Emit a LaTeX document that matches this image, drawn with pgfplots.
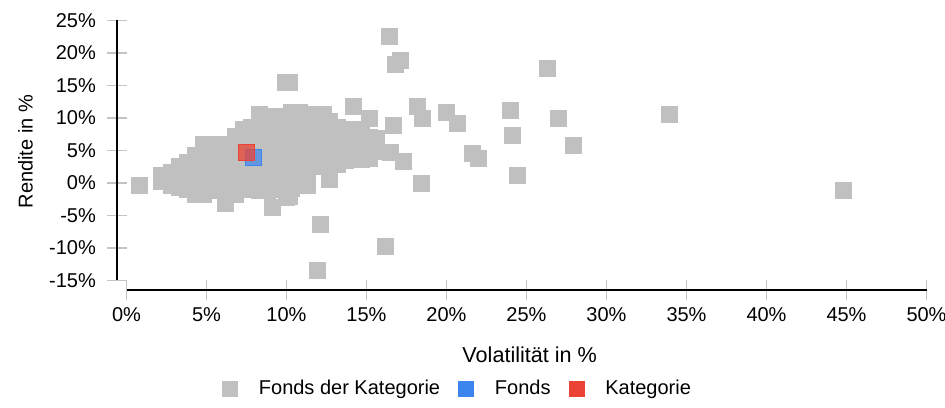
\documentclass[border=0pt]{standalone}
\usepackage{fontspec}
\setmainfont{Liberation Sans}
\usepackage{pgfplots}
\pgfplotsset{compat=1.18}
\definecolor{fgrey}{HTML}{C0C0C0}
\definecolor{fblue}{HTML}{3D85EE}
\definecolor{fred}{HTML}{EA4335}
\definecolor{tickgrey}{HTML}{C4C4C4}
\begin{document}
\begin{tikzpicture}
\begin{axis}[
  at={(0,0)}, anchor=south west,
  scale only axis,
  width=404.8pt, height=134.875pt,
  xmin=-0.6, xmax=50, ymin=-16.5, ymax=25,
  enlargelimits=false,
  clip=false,
  axis x line*=bottom, axis y line*=left,
  axis line style={-, black, line width=1pt},
  x axis line style={shorten <=4.8pt},
  y axis line style={shorten <=4.9pt},
  tick align=center,
  major tick length=10pt,
  tick style={tickgrey, line width=0.75pt},
  xtick={0,5,...,50},
  xticklabels={0\%,5\%,10\%,15\%,20\%,25\%,30\%,35\%,40\%,45\%,50\%},
  ytick={-15,-10,...,25},
  yticklabels={-15\%,-10\%,-5\%,0\%,5\%,10\%,15\%,20\%,25\%},
  tick label style={font=\fontsize{10}{12}\selectfont, text=black},
  yticklabel style={xshift=-2pt},
  every axis x label/.style={at={(axis description cs:0.5099,-0.2686)}, anchor=base, font=\fontsize{10.8}{13}\selectfont},
  every axis y label/.style={at={(axis description cs:-0.1129,0.5136)}, rotate=90, anchor=center, font=\fontsize{10}{12}\selectfont},
  xlabel={Volatilität in \%},
  ylabel={Rendite in \%},
  legend columns=3,
  legend style={at={(axis description cs:0.4195,-0.3661)}, anchor=center, draw=none, fill=none,
    font=\fontsize{10}{12}\selectfont, nodes={inner sep=0pt},
    /tikz/every odd column/.style={column sep=10.5pt},
    /tikz/every even column/.style={column sep=9pt}},
  legend image code/.code={\fill[#1] (0pt,-3.75pt) rectangle (7.5pt,3.75pt);},
]
\addplot[only marks, mark=square*, color=fgrey, mark size=4pt, mark options={draw=none}] coordinates {
(2.2,0.2) (2.2,1.1)
(2.8,-0.4) (2.8,1.0) (2.8,1.7)
(3.3,-0.6) (3.3,1.0) (3.3,2.5)
(3.8,-1.0) (3.8,0.8) (3.8,2.2) (3.8,3.2)
(4.3,-1.8) (4.3,0.0) (4.3,1.6) (4.3,3.0) (4.3,4.3)
(4.8,-1.8) (4.8,0.0) (4.8,1.8) (4.8,3.6) (4.8,5.0) (4.8,5.9)
(5.3,-1.0) (5.3,0.8) (5.3,2.5) (5.3,4.2) (5.3,5.9)
(5.8,-1.2) (5.8,0.5) (5.8,2.2) (5.8,4.0) (5.8,5.5) (5.8,5.9)
(6.2,-3.1) (6.2,-1.5) (6.2,0.2) (6.2,2.0) (6.2,3.8) (6.2,5.5) (6.2,5.9)
(6.8,-1.8) (6.8,0.0) (6.8,1.8) (6.8,3.5) (6.8,5.3) (6.8,7.2)
(7.3,-1.0) (7.3,0.8) (7.3,2.5) (7.3,4.3) (7.3,6.2) (7.3,8.2)
(7.8,-1.0) (7.8,0.8) (7.8,2.6) (7.8,4.4) (7.8,6.3) (7.8,8.5)
(8.3,-1.1) (8.3,0.7) (8.3,2.5) (8.3,4.3) (8.3,6.2) (8.3,8.0) (8.3,10.5)
(8.8,-1.1) (8.8,0.7) (8.8,2.5) (8.8,4.3) (8.8,6.1) (8.8,7.9) (8.8,9.6) (8.8,10.2)
(9.1,-3.8)
(9.3,-1.0) (9.3,0.8) (9.3,2.6) (9.3,4.4) (9.3,6.2) (9.3,8.0) (9.3,10.2)
(9.8,-0.8) (9.8,1.0) (9.8,2.8) (9.8,4.6) (9.8,6.4) (9.8,8.2) (9.8,10.3)
(10.0,-2.2) (10.2,-2.1) (9.9,15.5) (10.2,15.5)
(10.3,-0.8) (10.3,1.0) (10.3,2.8) (10.3,4.6) (10.3,6.4) (10.3,8.2) (10.3,10.0) (10.3,10.9)
(10.8,-0.3) (10.8,1.5) (10.8,3.3) (10.8,5.1) (10.8,6.9) (10.8,8.7) (10.8,10.9)
(11.3,-0.3) (11.3,1.5) (11.3,3.3) (11.3,5.1) (11.3,6.9) (11.3,8.7) (11.3,10.6)
(11.8,2.5) (11.8,4.3) (11.8,6.1) (11.8,7.9) (11.8,9.7) (11.8,10.5)
(12.3,2.5) (12.3,4.3) (12.3,6.1) (12.3,7.9) (12.3,9.7) (12.3,10.5)
(12.7,0.5) (12.7,2.5) (12.7,4.3) (12.7,6.1) (12.7,7.9) (12.7,9.5)
(13.2,2.8) (13.2,4.6) (13.2,6.4) (13.2,8.6)
(13.7,3.5) (13.7,5.3) (13.7,7.0) (13.7,7.8)
(14.2,4.5) (14.2,6.3) (14.2,8.3)
(14.7,3.7) (14.7,5.5) (14.7,7.2) (14.7,8.0)
(15.2,3.8) (15.2,5.5) (15.2,7.0)
(15.6,4.8) (15.6,6.9)
(0.8,-0.3) (12.1,-6.3) (11.9,-13.4) (16.2,-9.8)
(14.2,11.8) (15.2,10.0) (16.4,22.6) (16.8,18.2) (17.1,18.8)
(16.7,8.8) (16.5,4.7) (17.3,3.4) (18.2,11.8) (18.5,10.0) (18.4,0.0)
(20.0,10.8) (20.7,9.2) (21.6,4.6) (22.0,3.8)
(24.0,11.2) (24.1,7.4) (24.4,1.1)
(26.3,17.7) (27.0,10.0) (27.9,5.8)
(33.9,10.5) (44.8,-1.2)
};
\addlegendentry{Fonds der Kategorie}
\addplot[only marks, mark=square*, color=fblue, mark size=4pt, mark options={draw=none, fill opacity=0.7}] coordinates {(7.9,4.0)};
\addlegendentry{Fonds}
\addplot[only marks, mark=square*, color=fred, mark size=4pt, mark options={draw=none, fill opacity=0.75}] coordinates {(7.47,4.66)};
\addlegendentry{Kategorie}
\end{axis}
\pgfresetboundingbox
\path[use as bounding box] (-58.45pt,-58.375pt) rectangle (414.05pt,145.125pt);
\end{tikzpicture}
\end{document}
